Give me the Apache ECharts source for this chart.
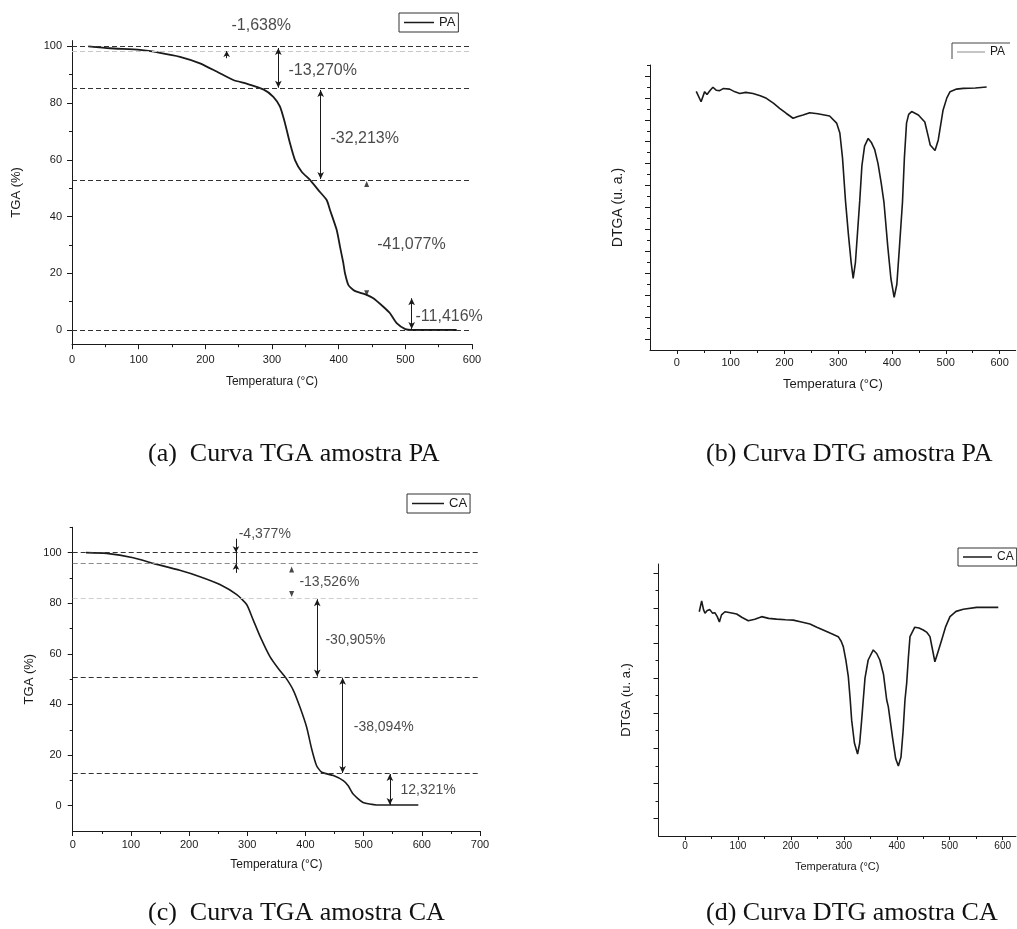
<!DOCTYPE html>
<html><head><meta charset="utf-8">
<script src="https://cdn.jsdelivr.net/npm/echarts@6/dist/echarts.min.js"></script>
<style>html,body{margin:0;padding:0;background:#fff}#c{width:1017px;height:929px}</style>
</head><body><div id="c"></div>
<script>
// ---------- (a) TGA PA ----------
const PA_TGA_T = [24.5, 57, 102, 132, 162, 192, 217, 242, 262, 287, 302, 312, 319.5, 327, 334.5, 344.5, 357, 369.5, 382, 387, 397, 402, 407, 409.5, 414.5, 422, 427, 442, 452, 467, 477, 487, 500, 510, 577];
const PA_TGA_V = [100, 99.3, 98.7, 97.7, 96.3, 94.0, 91.1, 88.1, 86.8, 84.8, 82.2, 78.7, 72.9, 65.8, 59.9, 55.8, 52.9, 49.3, 45.8, 42.3, 35.3, 29.4, 23.6, 20.0, 15.9, 14.1, 13.5, 12.4, 11.2, 8.2, 5.9, 2.4, 0.3, 0, 0];
const PA_LEVELS = [100, 85.1, 52.9, 0];
const PA_LEVELS_FAINT = [98.36];
const PA_DARROW_T = [309.5, 373, 509.5];
const PA_DARROW_FROM = [99.4, 84.6, 11.2];
const PA_DARROW_TO = [85.4, 53.2, 0.4];
const PA_INARROW_T = [232, 232];
const PA_INARROW_FROM = [103.6, 95.8];
const PA_INARROW_TO = [100.1, 98.3];
const PA_HEAD_UP = [[442, 51.5]];
const PA_HEAD_DOWN = [[442, 13.0]];
const PA_LABELS = ['-1,638%', '-13,270%', '-32,213%', '-41,077%', '-11,416%'];
const PA_LABEL_T = [238.5, 324, 387, 457, 514.5];
const PA_LABEL_V = [107.2, 91.3, 67.6, 30, 4.9];

// ---------- (b) DTG PA ----------
const PA_DTG_T = [36, 45, 51.6, 56, 62, 67, 73, 79.5, 86, 98, 108, 117, 128, 141.5, 155, 166.5, 180, 191, 203, 216, 225, 234.6, 247, 262, 284, 297, 303, 308, 313.5, 319, 324, 327.8, 332, 336, 340, 344, 349, 355.7, 362, 368, 374, 380, 385, 392, 398, 404, 409, 414, 419.5, 423, 427, 431, 436.5, 449, 461, 467.5, 471, 474, 480, 486, 495, 502, 508, 520, 532.6, 555, 576];
const PA_DTG_V = [23.6, 22.65, 23.57, 23.3, 23.7, 23.97, 23.7, 23.66, 23.85, 23.8, 23.55, 23.4, 23.5, 23.4, 23.2, 22.96, 22.5, 22.05, 21.6, 21.14, 21.3, 21.44, 21.65, 21.55, 21.35, 20.7, 19.8, 17.5, 13.6, 10.5, 8.0, 6.54, 8.0, 10.8, 13.6, 16.8, 18.6, 19.3, 18.9, 18.25, 17.0, 15.2, 13.5, 9.5, 6.5, 4.8, 6.0, 9.5, 13.5, 17.5, 20.7, 21.5, 21.75, 21.44, 20.8, 19.46, 18.7, 18.55, 18.2, 19.16, 21.9, 23.0, 23.57, 23.8, 23.87, 23.9, 24.0];

// ---------- (c) TGA CA ----------
const CA_TGA_T = [22.9, 58.4, 104, 138.5, 184, 218.7, 253, 282, 299, 310, 322, 339, 353, 366, 379, 390.5, 402, 410.6, 419, 428, 448, 465, 473.5, 482, 499, 522, 594];
const CA_TGA_V = [100, 99.7, 98, 95.75, 93, 90.5, 87.4, 83.4, 79.5, 73.5, 66.9, 58.9, 54.3, 50.6, 45.7, 39, 31.1, 22.5, 15.9, 13.2, 11.9, 9.9, 7.9, 4.6, 1.3, 0.3, 0.3];
const CA_LEVELS = [100, 50.8, 12.7];
const CA_LEVELS_GRAY = [95.7];
const CA_LEVELS_FAINT = [81.9];
const CA_DARROW_T = [420.3, 463.9, 545.2];
const CA_DARROW_FROM = [81.6, 50.6, 12.5];
const CA_DARROW_TO = [51.0, 12.9, 0.3];
const CA_INARROW_T = [280.6, 280.6];
const CA_INARROW_FROM = [105.5, 92.0];
const CA_INARROW_TO = [100.1, 95.6];
const CA_PLAIN_T = [280.6];
const CA_PLAIN_FROM = [100];
const CA_PLAIN_TO = [95.7];
const CA_HEAD_UP = [[376.3, 93.3]];
const CA_HEAD_DOWN = [[376.3, 83.6]];
const CA_LABELS = ['-4,377%', '-13,526%', '-30,905%', '-38,094%', '12,321%'];
const CA_LABEL_T = [284.4, 388.8, 433.5, 482.1, 562.4];
const CA_LABEL_V = [107.3, 88.3, 65.3, 31.1, 6];

// ---------- (d) DTG CA ----------
const CA_DTG_T = [27, 31.5, 35, 37.8, 42, 47, 52, 56.7, 61, 65, 69, 75.5, 86, 97.6, 108, 119.6, 132, 144.8, 158, 173, 190, 204.6, 220, 236, 249, 261, 275, 289.5, 295, 299, 304, 308.5, 312, 314.8, 320, 326, 330, 333.7, 336.7, 340, 346, 355.6, 362, 368, 375, 381, 384, 392, 398, 403, 408, 412, 415.5, 418.7, 422, 425, 434, 442, 450, 457, 462.7, 467, 472, 478, 484.8, 492, 500.5, 512, 525.6, 551, 570, 591.7];
const CA_DTG_V = [12.78, 13.4, 12.9, 12.69, 12.85, 12.9, 12.7, 12.72, 12.5, 12.2, 12.6, 12.78, 12.72, 12.65, 12.45, 12.27, 12.35, 12.5, 12.4, 12.36, 12.32, 12.3, 12.2, 12.08, 11.9, 11.74, 11.55, 11.36, 11.1, 10.79, 10.0, 9.08, 7.8, 6.6, 5.3, 4.67, 5.3, 6.6, 7.75, 9.0, 10.03, 10.6, 10.4, 10.03, 9.2, 7.75, 7.37, 5.6, 4.4, 3.99, 4.5, 6.0, 7.75, 8.7, 10.2, 11.36, 11.9, 11.85, 11.74, 11.6, 11.36, 10.7, 9.93, 10.5, 11.17, 11.9, 12.5, 12.8, 12.92, 13.03, 13.03, 13.03];

// ---------- tick values ----------
const TGA_A_X_LABELS = [0, 100, 200, 300, 400, 500, 600];
const TGA_A_X_MINOR = [50, 150, 250, 350, 450, 550];
const TGA_A_Y_LABELS = [0, 20, 40, 60, 80, 100];
const TGA_A_Y_MINOR = [10, 30, 50, 70, 90];
const TGA_C_X_LABELS = [0, 100, 200, 300, 400, 500, 600, 700];
const TGA_C_X_MINOR = [50, 150, 250, 350, 450, 550, 650];
const TGA_C_Y_LABELS = [0, 20, 40, 60, 80, 100];
const TGA_C_Y_MINOR = [10, 30, 50, 70, 90, 110];
const DTG_X_LABELS = [0, 100, 200, 300, 400, 500, 600];
const DTG_X_MINOR = [50, 150, 250, 350, 450, 550];
const DTG_B_Y_LONG = [1, 3, 5, 7, 9, 11, 13, 15, 17, 19, 21, 23, 25];
const DTG_B_Y_SHORT = [2, 4, 6, 8, 10, 12, 14, 16, 18, 20, 22, 24, 26];
const DTG_D_Y_LONG = [1, 3, 5, 7, 9, 11, 13, 15];
const DTG_D_Y_SHORT = [2, 4, 6, 8, 10, 12, 14];

const CAPTIONS = ['(a)  Curva TGA amostra PA', '(b) Curva DTG amostra PA', '(c)  Curva TGA amostra CA', '(d) Curva DTG amostra CA'];

// ---------- helpers ----------
const SANS = "'Liberation Sans', Arial, sans-serif";
const SERIF = "'Liberation Serif', 'Times New Roman', serif";
const INK = '#1a1a1a';
const zip = (a, b) => a.map((x, i) => [x, b[i]]);

function axisPair(g, pos, min, max, ticks, labels, minor, cfg) {
  const main = {
    type: 'value', gridIndex: g, min: min, max: max, position: pos,
    name: cfg.name || '', nameLocation: 'middle', nameGap: cfg.nameGap || 30,
    nameTextStyle: { fontFamily: SANS, fontSize: cfg.nameSize || 12, color: INK },
    axisLine: { show: true, onZero: false, lineStyle: { color: INK, width: 1 } },
    axisTick: { show: true, inside: false, length: cfg.tickLen || 5, customValues: ticks, lineStyle: { color: INK, width: 1 } },
    axisLabel: { show: labels.length > 0, customValues: labels, fontFamily: SANS, fontSize: cfg.labelSize || 11, color: INK, margin: cfg.margin || 8, hideOverlap: false },
    splitLine: { show: false }, minorTick: { show: false }, axisPointer: { show: false }
  };
  const sub = {
    type: 'value', gridIndex: g, min: min, max: max, position: pos,
    axisLine: { show: false, onZero: false },
    axisTick: { show: minor.length > 0, inside: false, length: cfg.minorLen || 3, customValues: minor, lineStyle: { color: INK, width: 1 } },
    axisLabel: { show: false, customValues: minor },
    splitLine: { show: false }, minorTick: { show: false }, axisPointer: { show: false }
  };
  return [main, sub];
}

function levelLines(vals, color) {
  return vals.map(v => ({ yAxis: v, lineStyle: { color: color, type: [5, 3], width: 1 } }));
}
function doubleArrows(ts, from, to) {
  return ts.map((t, i) => [
    { coord: [t, from[i]], symbol: 'arrow', symbolSize: [5, 7], lineStyle: { color: INK, type: 'solid', width: 1 } },
    { coord: [t, to[i]], symbol: 'arrow', symbolSize: [5, 7] }
  ]);
}
function inArrows(ts, from, to) {
  return ts.map((t, i) => [
    { coord: [t, from[i]], symbol: 'none', lineStyle: { color: INK, type: 'solid', width: 1 } },
    { coord: [t, to[i]], symbol: 'arrow', symbolSize: [5, 6] }
  ]);
}
function plainLines(ts, from, to) {
  return ts.map((t, i) => [
    { coord: [t, from[i]], symbol: 'none', lineStyle: { color: INK, type: 'solid', width: 1 } },
    { coord: [t, to[i]], symbol: 'none' }
  ]);
}
function heads(g, up, down) {
  const base = { type: 'scatter', xAxisIndex: 2 * g, yAxisIndex: 2 * g, symbol: 'triangle', symbolSize: [5, 6], itemStyle: { color: INK }, silent: true, clip: false, z: 5 };
  return [Object.assign({}, base, { name: 'up' + g, data: up, symbolRotate: 0 }),
          Object.assign({}, base, { name: 'down' + g, data: down, symbolRotate: 180 })];
}
function labels(g, texts, ts, vs, size) {
  return {
    type: 'scatter', name: 'lab' + g, xAxisIndex: 2 * g, yAxisIndex: 2 * g, silent: true, clip: false,
    symbolSize: 1, itemStyle: { color: 'rgba(0,0,0,0)' }, z: 6,
    data: texts.map((t, i) => ({ value: [ts[i], vs[i]], name: t })),
    label: { show: true, formatter: '{b}', position: 'right', distance: 0, color: INK, fontFamily: SANS, fontSize: size }
  };
}

// ---------- axes ----------
const ax = [
  axisPair(0, 'bottom', 0, 600, TGA_A_X_LABELS, TGA_A_X_LABELS, TGA_A_X_MINOR, { name: 'Temperatura (°C)', nameGap: 31, nameSize: 12, margin: 10 }),
  axisPair(1, 'bottom', -50, 630, DTG_X_LABELS, DTG_X_LABELS, DTG_X_MINOR, { name: 'Temperatura (°C)', nameGap: 28, nameSize: 13, margin: 7, tickLen: 4 }),
  axisPair(2, 'bottom', 0, 700, TGA_C_X_LABELS, TGA_C_X_LABELS, TGA_C_X_MINOR, { name: 'Temperatura (°C)', nameGap: 28, nameSize: 12, margin: 8 }),
  axisPair(3, 'bottom', -50, 625, DTG_X_LABELS, DTG_X_LABELS, DTG_X_MINOR, { name: 'Temperatura (°C)', nameGap: 25, nameSize: 11, labelSize: 10, margin: 5, tickLen: 4 })
];
const ay = [
  axisPair(0, 'left', -5, 102, TGA_A_Y_LABELS, TGA_A_Y_LABELS, TGA_A_Y_MINOR, { name: 'TGA (%)', nameGap: 49, nameSize: 13, margin: 10 }),
  axisPair(1, 'left', 0, 26, DTG_B_Y_LONG, [], DTG_B_Y_SHORT, { name: 'DTGA (u. a.)', nameGap: 25, nameSize: 14, tickLen: 5 }),
  axisPair(2, 'left', -10, 110, TGA_C_Y_LABELS, TGA_C_Y_LABELS, TGA_C_Y_MINOR, { name: 'TGA (%)', nameGap: 37, nameSize: 13, margin: 11 }),
  axisPair(3, 'left', 0, 15.5, DTG_D_Y_LONG, [], DTG_D_Y_SHORT, { name: 'DTGA (u. a.)', nameGap: 26, nameSize: 13, tickLen: 5 })
];

const lineBase = { type: 'line', symbol: 'none', showSymbol: false, clip: false, lineStyle: { color: INK, width: 1.6 }, itemStyle: { color: INK }, z: 3 };
const mlBase = { silent: true, symbol: 'none', animation: false, label: { show: false }, emphasis: { disabled: true } };

const series = [
  Object.assign({}, lineBase, {
    name: 'PA', xAxisIndex: 0, yAxisIndex: 0, smooth: 0.2, data: zip(PA_TGA_T, PA_TGA_V), lineStyle: { color: INK, width: 1.8 },
    markLine: Object.assign({}, mlBase, { data: [].concat(
      levelLines(PA_LEVELS, '#333'), levelLines(PA_LEVELS_FAINT, '#c8c8c8'),
      doubleArrows(PA_DARROW_T, PA_DARROW_FROM, PA_DARROW_TO),
      inArrows(PA_INARROW_T, PA_INARROW_FROM, PA_INARROW_TO)) })
  }),
  ...heads(0, PA_HEAD_UP, PA_HEAD_DOWN),
  labels(0, PA_LABELS, PA_LABEL_T, PA_LABEL_V, 16),
  Object.assign({}, lineBase, { name: 'PA', xAxisIndex: 2, yAxisIndex: 2, data: zip(PA_DTG_T, PA_DTG_V) }),
  Object.assign({}, lineBase, {
    name: 'CA', xAxisIndex: 4, yAxisIndex: 4, smooth: 0.2, data: zip(CA_TGA_T, CA_TGA_V),
    markLine: Object.assign({}, mlBase, { data: [].concat(
      levelLines(CA_LEVELS, '#333'), levelLines(CA_LEVELS_GRAY, '#8a8a8a'), levelLines(CA_LEVELS_FAINT, '#cfcfcf'),
      doubleArrows(CA_DARROW_T, CA_DARROW_FROM, CA_DARROW_TO),
      inArrows(CA_INARROW_T, CA_INARROW_FROM, CA_INARROW_TO),
      plainLines(CA_PLAIN_T, CA_PLAIN_FROM, CA_PLAIN_TO)) })
  }),
  ...heads(2, CA_HEAD_UP, CA_HEAD_DOWN),
  labels(2, CA_LABELS, CA_LABEL_T, CA_LABEL_V, 14),
  Object.assign({}, lineBase, { name: 'CA', xAxisIndex: 6, yAxisIndex: 6, data: zip(CA_DTG_T, CA_DTG_V) })
];

const legendBase = { orient: 'horizontal', selectedMode: false, itemGap: 0, icon: 'rect', itemHeight: 1.5, padding: [3, 3, 3, 5], borderColor: '#333', borderWidth: 1, backgroundColor: '#fff' };
const legends = [
  Object.assign({}, legendBase, { left: 399, top: 13, itemWidth: 30, data: [{ name: 'PA', itemStyle: { color: INK } }], textStyle: { fontFamily: SANS, fontSize: 13, color: INK } }),
  Object.assign({}, legendBase, { left: 952, top: 43, itemWidth: 28, borderWidth: 0, backgroundColor: 'transparent', itemHeight: 1,
    data: [{ name: 'PA', itemStyle: { color: '#8a8a8a' } }], textStyle: { fontFamily: SANS, fontSize: 12, color: INK } }),
  Object.assign({}, legendBase, { left: 407, top: 494, itemWidth: 32, data: [{ name: 'CA', itemStyle: { color: INK } }], textStyle: { fontFamily: SANS, fontSize: 13, color: INK } }),
  Object.assign({}, legendBase, { left: 958, top: 548, itemWidth: 29, data: [{ name: 'CA', itemStyle: { color: INK } }], textStyle: { fontFamily: SANS, fontSize: 12, color: INK } })
];

const capPos = [[148, 441], [706, 441], [148, 900], [706, 900]];
const titles = CAPTIONS.map((t, i) => ({ text: t, left: capPos[i][0], top: capPos[i][1], padding: 0,
  textStyle: { fontFamily: SERIF, fontSize: 26, fontWeight: 'normal', color: '#111' } }));

const option = {
  animation: false, backgroundColor: '#fff',
  title: titles,
  legend: legends,
  grid: [
    { left: 72, top: 40.6, width: 400, height: 303.6, containLabel: false, outerBoundsMode: 'none' },
    { left: 650, top: 65, width: 365.7, height: 285, containLabel: false, outerBoundsMode: 'none' },
    { left: 72.7, top: 527.3, width: 407.3, height: 303.7, containLabel: false, outerBoundsMode: 'none' },
    { left: 658.5, top: 564, width: 357.4, height: 272, containLabel: false, outerBoundsMode: 'none' }
  ],
  xAxis: [].concat(...ax),
  yAxis: [].concat(...ay),
  series: series,
  graphic: [
    { type: 'polyline', silent: true, shape: { points: [[1010, 43], [952, 43], [952, 59]] }, style: { stroke: '#444', fill: null, lineWidth: 1 } }
  ]
};

const chart = echarts.init(document.getElementById('c'), null, { renderer: 'canvas' });
chart.setOption(option);
</script>
</body></html>
